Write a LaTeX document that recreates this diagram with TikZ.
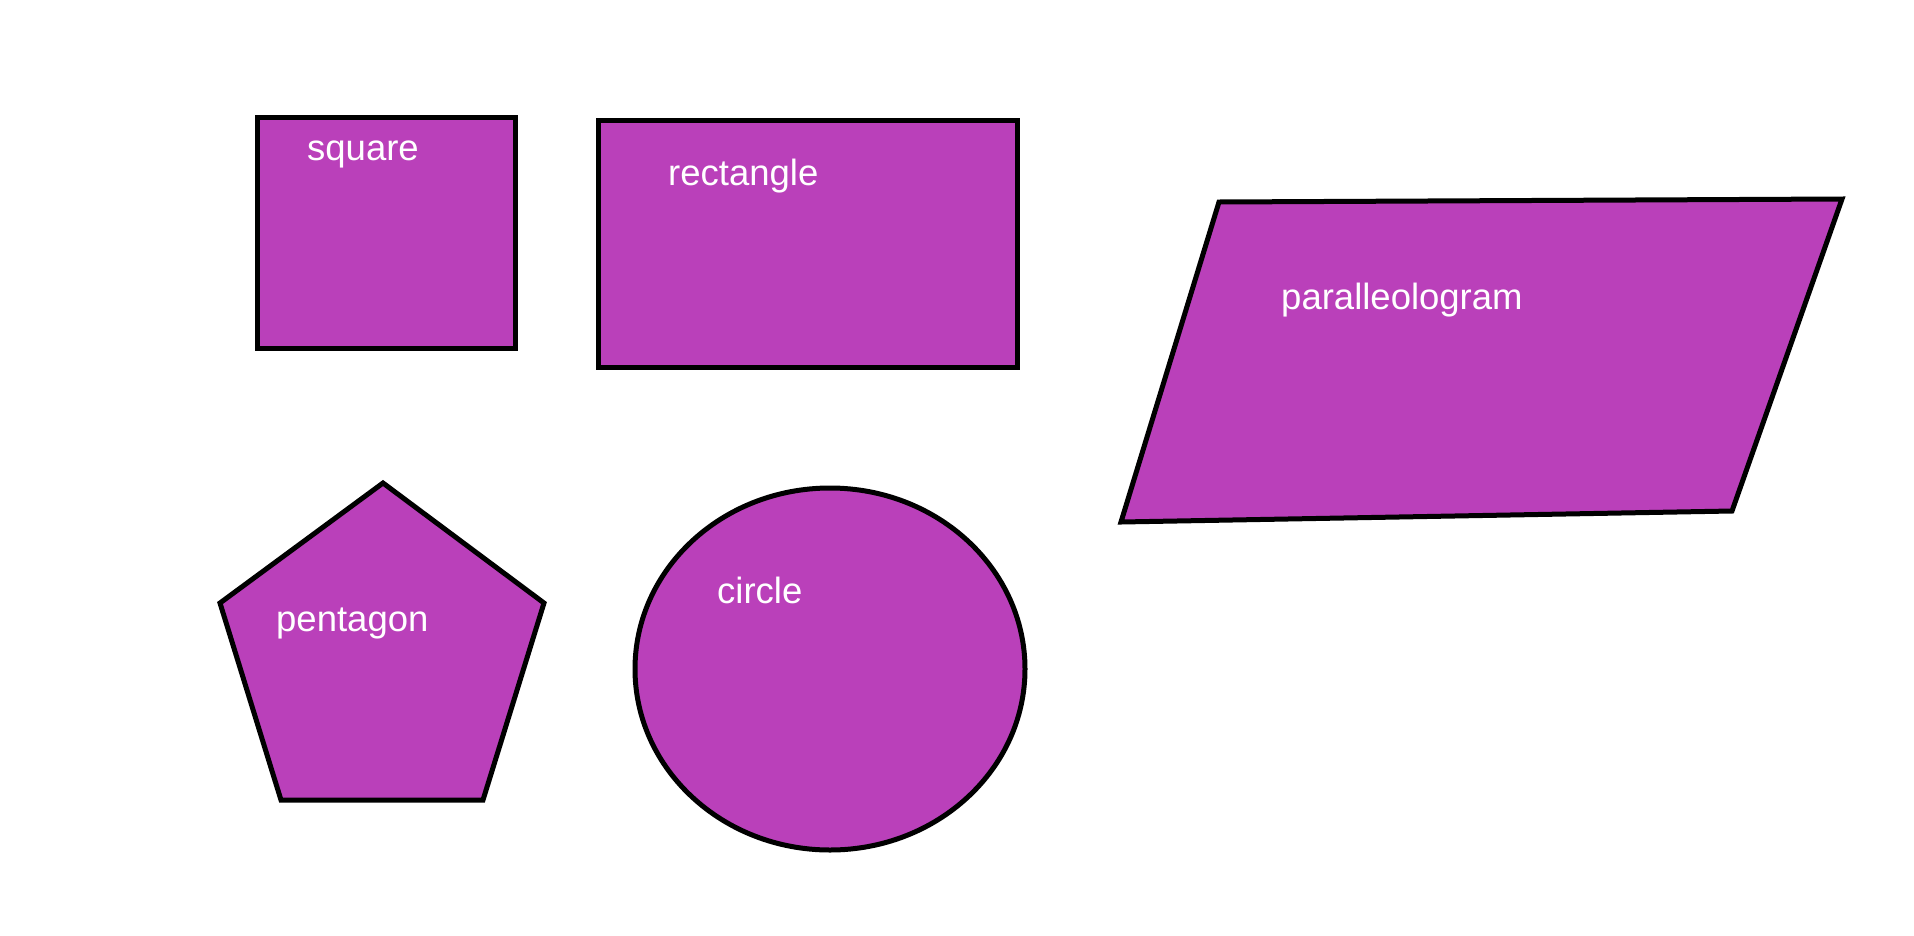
\documentclass[tikz,border=0pt]{standalone}
\usepackage{fontspec}
\setmainfont{Liberation Sans}
\definecolor{shapefill}{RGB}{186,64,186}
\tikzset{
  shapestyle/.style={draw=black, fill=shapefill, line width=5pt, line join=miter},
  lbl/.style={text=white, font=\fontsize{36.5}{40}\selectfont, inner sep=0pt, anchor=base west}
}
\begin{document}
\begin{tikzpicture}[x=1pt,y=-1pt]
\useasboundingbox (0,0) rectangle (1914,935);
% square
\draw[shapestyle] (257,117) rectangle (515,348);
\node[lbl] (tsquare) at (307,160) {square};
% rectangle
\draw[shapestyle] (598,120) rectangle (1017,367);
\node[lbl] (trect) at (668,185) {rectangle};
% parallelogram
\draw[shapestyle] (1219,202) -- (1842,199) -- (1732,511) -- (1121,522) -- cycle;
\node[lbl] (tpar) at (1281,309) {paralleologram};
% pentagon
\draw[shapestyle] (383,483) -- (544,603) -- (483,800) -- (281,800) -- (220,603) -- cycle;
\node[lbl] (tpent) at (276,631) {pentagon};
% circle
\draw[shapestyle] (830,669) ellipse [x radius=195, y radius=181];
\node[lbl] (tcirc) at (717,603) {circle};
\end{tikzpicture}
\end{document}
